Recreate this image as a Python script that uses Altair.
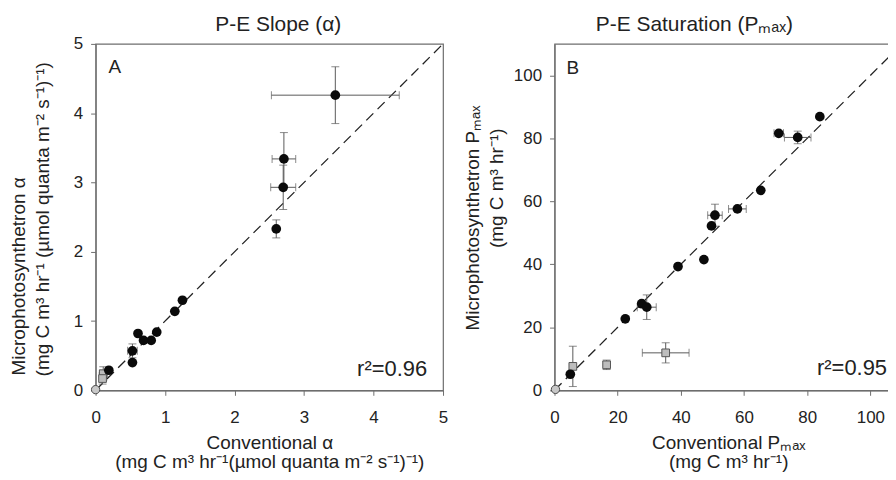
import altair as alt
import pandas as pd

FONT = "Liberation Sans"
TXT = "#222222"
AXC = "#6e6e6e"
EBC = "#5a5a5a"

# ---------------- Panel A : P-E slope (alpha) ----------------
A_circ_x = [3.45, 2.71, 2.70, 2.60, 1.25, 1.14, 0.88, 0.80, 0.69, 0.61, 0.53, 0.53, 0.19]
A_circ_y = [4.26, 3.34, 2.93, 2.33, 1.30, 1.14, 0.84, 0.72, 0.72, 0.82, 0.57, 0.40, 0.29]
A_circ_xerr = [0.92, 0.17, 0.18, 0.0, 0.0, 0.0, 0.0, 0.0, 0.0, 0.0, 0.07, 0.0, 0.0]
A_circ_yerr = [0.41, 0.38, 0.32, 0.13, 0.0, 0.0, 0.0, 0.0, 0.0, 0.0, 0.10, 0.0, 0.0]
A_sq_x = [0.11, 0.10]
A_sq_y = [0.24, 0.17]
A_sq_xerr = [0.05, 0.0]
A_sq_yerr = [0.10, 0.08]
A_orig_x = [0.0]
A_orig_y = [0.01]
A_ticks = [0, 1, 2, 3, 4, 5]
A_max = 5

# ---------------- Panel B : P-E saturation (Pmax) ----------------
B_circ_x = [84.0, 71.0, 77.0, 65.3, 57.9, 50.8, 49.7, 47.3, 39.1, 27.6, 29.2, 22.4, 5.0]
B_circ_y = [86.9, 81.6, 80.3, 63.5, 57.6, 55.6, 52.2, 41.5, 39.3, 27.5, 26.4, 22.7, 5.1]
B_circ_xerr = [0.0, 1.5, 4.2, 0.0, 2.8, 2.3, 0.0, 0.0, 0.0, 0.0, 3.0, 0.0, 0.0]
B_circ_yerr = [0.0, 0.0, 2.0, 0.0, 0.0, 3.5, 0.0, 0.0, 0.0, 0.0, 3.9, 0.0, 0.0]
B_sq_x = [5.8, 16.5, 35.2]
B_sq_y = [7.6, 8.1, 11.9]
B_sq_xerr = [0.0, 0.0, 7.4]
B_sq_yerr = [6.4, 1.5, 3.2]
B_orig_x = [0.3]
B_orig_y = [0.3]
B_ticks = [0, 20, 40, 60, 80, 100]
B_max = 110

W, H = 349, 348


def txt(text, x, y, size=19, align="center", angle=0):
    kw = dict(font=FONT, fontSize=size, color=TXT, align=align, baseline="alphabetic")
    if angle:
        kw["angle"] = angle
    return alt.Chart(pd.DataFrame({"t": [text]})).mark_text(**kw).encode(
        x=alt.value(x), y=alt.value(y), text="t:N")


def make_panel(cx, cy, cxe, cye, sx, sy, sxe, sye, ox, oy, dmax, ticks,
               xtitle, texts):
    pts = pd.DataFrame({
        "x": cx + sx, "y": cy + sy,
        "xerr": cxe + sxe, "yerr": cye + sye,
    })
    circ = pd.DataFrame({"x": cx, "y": cy})
    sq = pd.DataFrame({"x": sx, "y": sy})
    orig = pd.DataFrame({"x": ox, "y": oy})
    line = pd.DataFrame({"x": [0, dmax], "y": [0, dmax]})

    xs = alt.Scale(domain=[0, dmax], nice=False, zero=False)
    ys = alt.Scale(domain=[0, dmax], nice=False, zero=False)
    xaxis = alt.Axis(values=ticks, tickSize=5, labelPadding=14, labelFontSize=17,
                     labelFont=FONT, labelColor=TXT, domainColor=AXC, tickColor=AXC,
                     domainWidth=1.2, grid=False, labelFlush=False,
                     title=xtitle, titleFont=FONT, titleFontSize=19, titleFontWeight="normal",
                     titleColor=TXT, titleX=W / 2, titleY=58, titleAlign="center",
                     titleBaseline="alphabetic", titleLineHeight=20)
    yaxis = alt.Axis(values=ticks, tickSize=5, labelPadding=8, labelFontSize=17,
                     labelFont=FONT, labelColor=TXT, domainColor=AXC, tickColor=AXC,
                     domainWidth=1.2, grid=False, labelFlush=False, title=None)

    def X(f):
        return alt.X(f, type="quantitative", scale=xs, axis=xaxis)

    def Y(f):
        return alt.Y(f, type="quantitative", scale=ys, axis=yaxis)

    base = alt.Chart(pts)
    hb = base.transform_filter("datum.xerr > 0").transform_calculate(
        lo="datum.x - datum.xerr", hi="datum.x + datum.xerr")
    vb = base.transform_filter("datum.yerr > 0").transform_calculate(
        lo="datum.y - datum.yerr", hi="datum.y + datum.yerr")

    layers = [
        alt.Chart(line).mark_line(color="#222222", strokeWidth=1.3, strokeDash=[10, 6]).encode(
            x=X("x"), y=Y("y")),
        hb.mark_rule(color=EBC, strokeWidth=1).encode(x=X("lo"), x2="hi:Q", y=Y("y")),
        hb.transform_fold(["lo", "hi"], as_=["end", "xv"]).mark_tick(
            orient="vertical", size=8, thickness=1, color=EBC).encode(x=X("xv"), y=Y("y")),
        vb.mark_rule(color=EBC, strokeWidth=1).encode(x=X("x"), y=Y("lo"), y2="hi:Q"),
        vb.transform_fold(["lo", "hi"], as_=["end", "yv"]).mark_tick(
            orient="horizontal", size=8, thickness=1, color=EBC).encode(x=X("x"), y=Y("yv")),
        alt.Chart(orig).mark_point(shape="circle", filled=True, size=70, fill="#c8c8c8",
                                   stroke="#4a4a4a", strokeWidth=1, opacity=1).encode(
            x=X("x"), y=Y("y")),
        alt.Chart(sq).mark_point(shape="square", filled=True, size=60, fill="#bdbdbd",
                                 stroke="#555555", strokeWidth=1, opacity=1).encode(
            x=X("x"), y=Y("y")),
        alt.Chart(circ).mark_point(shape="circle", filled=True, size=95, color="#0a0a0a",
                                   opacity=1).encode(x=X("x"), y=Y("y")),
    ]
    layers += texts
    return alt.layer(*layers).properties(width=W, height=H)


panelA = make_panel(
    A_circ_x, A_circ_y, A_circ_xerr, A_circ_yerr,
    A_sq_x, A_sq_y, A_sq_xerr, A_sq_yerr, A_orig_x, A_orig_y, A_max, A_ticks,
    ["Conventional α", "(mg C m³ hr⁻¹(µmol quanta m⁻² s⁻¹)⁻¹)"],
    [
        txt("P-E Slope (α)", W / 2 + 9, -13, size=21),
        txt("A", 13, 29, size=19, align="left"),
        txt("r²=0.96", 333, 334, size=22, align="right"),
        txt("Microphotosynthetron α", -71, 333, align="left", angle=270),
        txt("(mg C m³ hr⁻¹ (µmol quanta m⁻² s⁻¹)⁻¹)", -47, 334, align="left", angle=270),
    ])

panelB = make_panel(
    B_circ_x, B_circ_y, B_circ_xerr, B_circ_yerr,
    B_sq_x, B_sq_y, B_sq_xerr, B_sq_yerr, B_orig_x, B_orig_y, B_max, B_ticks,
    ["Conventional Pₘₐₓ", "(mg C m³ hr⁻¹)"],
    [
        txt("P-E Saturation (Pₘₐₓ)", W / 2 - 34, -13, size=21),
        txt("B", 12, 30, size=19, align="left"),
        txt("r²=0.95", 334, 333, size=22, align="right"),
        txt("Microphotosynthetron Pₘₐₓ", -76, 175, angle=270),
        txt("(mg C m³ hr⁻¹)", -52, 145, angle=270),
    ])

chart = alt.hconcat(panelA, panelB, spacing=112, bounds="flush").properties(
    padding={"left": 1, "top": 4, "right": -18, "bottom": 0}
).configure_view(stroke=AXC, strokeWidth=1.2)

chart.save("out.html", embed_options={"renderer": "svg", "actions": False})
